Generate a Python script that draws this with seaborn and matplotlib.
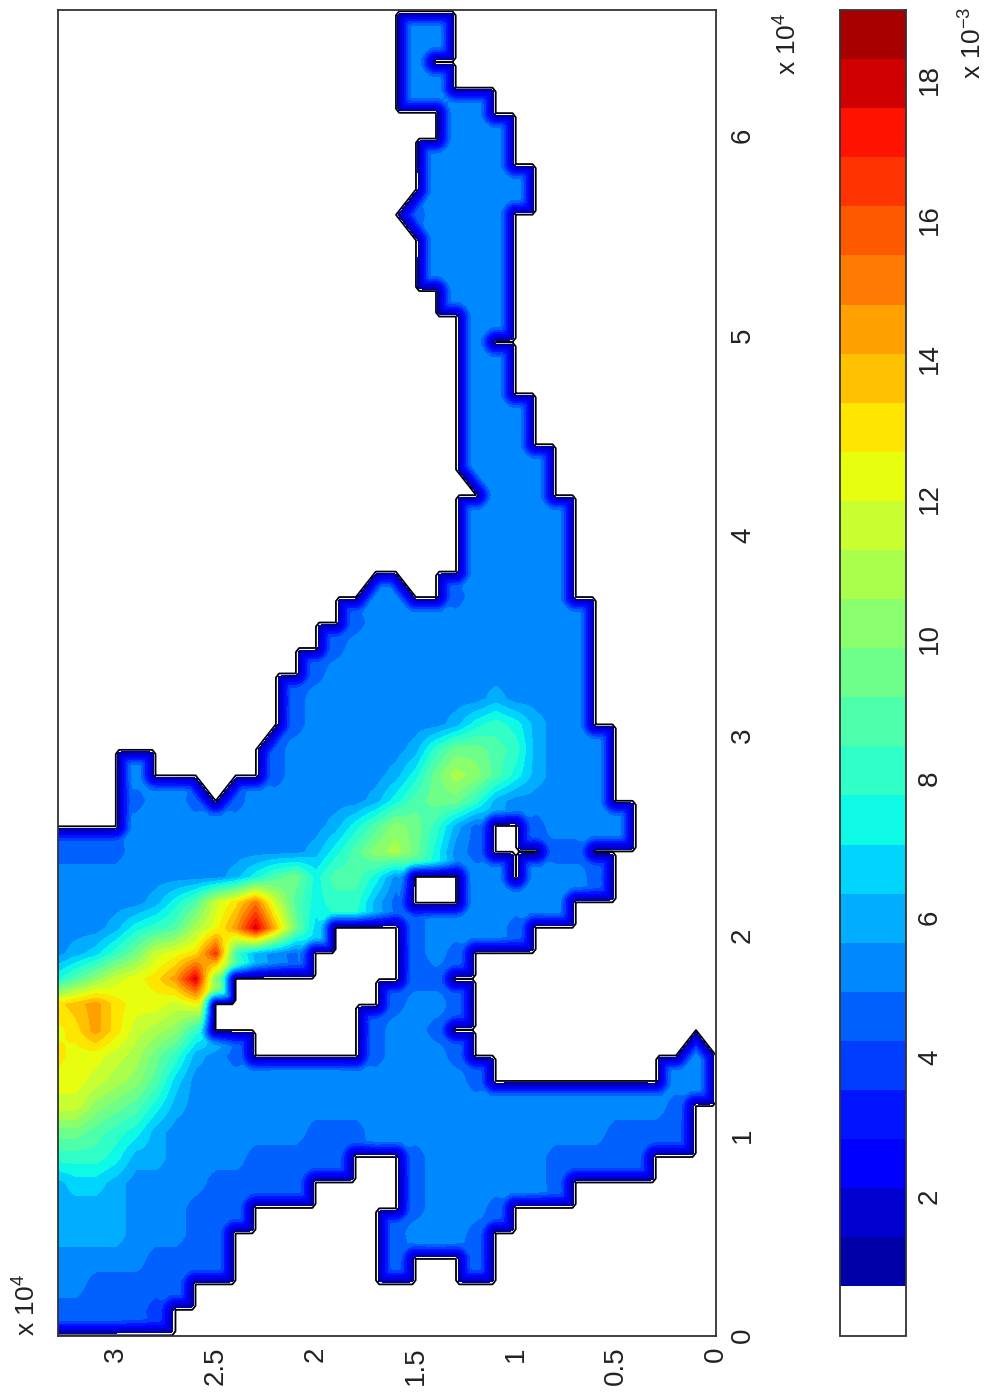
import numpy as np
import matplotlib
matplotlib.use("Agg")
import matplotlib.pyplot as plt
from matplotlib.colors import ListedColormap
import seaborn as sns

# grid nodes: staircase steps of the outline
X_STEP = 1273
Y_STEP = 1000
X_MAX = 66250
Y_MAX = 32900

# one string per x node, top of the page first, one char per y node (left of the page first)
# '.' = land (0), other chars = colour band number in base 36
FIELD_ROWS = [
    "." * 34,
    "." * 18 + "77" + "." * 14,
    "." * 18 + "7" + "." * 15,
    "." * 18 + "77" + "." * 14,
    "." * 20 + "77" + "." * 12,
    "." * 20 + "777" + "." * 11,
    "." * 19 + "7777" + "." * 11,
    "." * 19 + "77777" + "." * 10,
    "." * 18 + "67777" + "." * 11,
    "." * 19 + "7777" + "." * 11,
    "." * 19 + "7777" + "." * 11,
    "." * 20 + "777" + "." * 11,
    "." * 21 + "77" + "." * 11,
    "." * 21 + "7" + "." * 12,
    "." * 21 + "77" + "." * 11,
    "." * 21 + "77" + "." * 11,
    "." * 21 + "777" + "." * 10,
    "." * 21 + "777" + "." * 10,
    "." * 21 + "7777" + "." * 9,
    "." * 22 + "777" + "." * 9,
    "." * 21 + "77777" + "." * 8,
    "." * 21 + "77777" + "." * 8,
    "." * 21 + "77777" + "." * 8,
    "." * 16 + "77.." + "677777" + "." * 8,
    "." * 15 + "677777777777" + "." * 7,
    "." * 14 + "6777777777777" + "." * 7,
    "." * 13 + "67777777777777" + "." * 7,
    "." * 12 + "677777777787777" + "." * 7,
    "." * 12 + "677777778aba877" + "." * 7,
    "." * 11 + "67777778bddcb8777" + "." * 6,
    "....7......" + "6777778adfeca8777" + "." * 6,
    "....6776." + "67777778acddb87777" + "7" + "." * 6,
    "...." + "777777777" + "78acedb86" + ".." + "67777" + "." * 5,
    "6666777777777" + "8acefda76" + "..." + "66" + "." * 7,
    "777777777" + "8acdacca7" + "..." + "77." + "7776" + "." * 6,
    "777778acgilgcabb86" + "..." + "77777" + "." * 8,
    "7778abcfhkpjd9" + "...." + "677776" + "." * 10,
    "789bdghinb876" + "....." + "676" + "." * 13,
    "aceghikpd" + "." * 9 + "66" + "." * 14,
    "ijkihhgh" + "." * 9 + "6776" + "." * 13,
    "hikigfeb" + "." * 8 + "6776" + "." * 14,
    "ihhgfdb876" + "." * 6 + "67776" + "." * 11 + "7.",
    "hhgfec9777777777777776" + "." * 9 + "77.",
    "ggedca8" + "777777777777777" + "777777777" + "6..",
    "ddcba8" + "7777777" + "66677" + "7777777777" + "666" + "6..",
    "bbba887777" + "66666" + "..." + "677777766666" + "....",
    "8998777766666" + "....." + "67777776" + "." * 8,
    "8888777666" + "." * 8 + "67776" + "." * 11,
    "888877766" + "." * 8 + "67776" + "." * 12,
    "777776666" + "." * 8 + "6...6" + "." * 12,
    "7766666" + "." * 27,
    "666665" + "." * 28,
    "." * 34,
]

# water nodes whose land corners are cut on the diagonal, not as a step
WEDGE_NODES = [(8, 18), (18, 21), (23, 16), (23, 17), (29, 11), (31, 7), (31, 9), (41, 32)]

X_TICKS = [0, 10000, 20000, 30000, 40000, 50000, 60000]
X_LABELS = ["0", "1", "2", "3", "4", "5", "6"]
Y_TICKS = [0, 5000, 10000, 15000, 20000, 25000, 30000]
Y_LABELS = ["0", "0.5", "1", "1.5", "2", "2.5", "3"]
CBAR_TICKS = [2, 4, 6, 8, 10, 12, 14, 16, 18]

VMIN = 0.01
VMAX = 19.0
N_COLORS = 26

SUB = 6           # fine points per grid step
RIM_PX = 16       # width of the dark rim along the coast
PX_ROW = 25.46    # page pixels per grid step
PX_COL = 20.0

sns.set_theme(style="white")
plt.rcParams["font.family"] = ["Liberation Sans", "DejaVu Sans"]
plt.rcParams["mathtext.default"] = "regular"
TEXT_COL = "#222222"

band_colors = ["white"] + sns.mpl_palette("jet", N_COLORS)
cmap = ListedColormap(band_colors)
levels = np.linspace(VMIN, VMAX, len(band_colors) + 1)
step = levels[1] - levels[0]

# decode rows -> values at the middle of each band
rows = len(FIELD_ROWS)
cols = len(FIELD_ROWS[0])
Z = np.full((rows, cols), np.nan)
for i, row in enumerate(FIELD_ROWS):
    for j, ch in enumerate(row):
        if ch != ".":
            Z[i, j] = levels[int(ch, 36)] + step / 2
is_land = np.isnan(Z)

# carry the water values over the land nodes so the resampling does not fade on its own
filled = Z.copy()
for _ in range(3):
    prev = filled.copy()
    for i, j in zip(*np.where(np.isnan(prev))):
        near = prev[max(i - 1, 0):i + 2, max(j - 1, 0):j + 2]
        if np.any(~np.isnan(near)):
            filled[i, j] = np.nanmean(near)
filled = np.nan_to_num(filled)

fine_i = np.linspace(0, rows - 1, (rows - 1) * SUB + 1)
fine_j = np.linspace(0, cols - 1, (cols - 1) * SUB + 1)
F = np.array([np.interp(fine_j, np.arange(cols), filled[i]) for i in range(rows)])
F = np.array([np.interp(fine_i, np.arange(rows), F[:, j]) for j in range(len(fine_j))]).T

# land on the fine grid: full cells, coast segments, wedges
land_f = np.zeros(F.shape, dtype=bool)
for i in range(rows):
    for j in range(cols):
        if not is_land[i, j]:
            continue
        land_f[i * SUB, j * SUB] = True
        if j + 1 < cols and is_land[i, j + 1]:
            land_f[i * SUB, j * SUB:(j + 1) * SUB + 1] = True
        if i + 1 < rows and is_land[i + 1, j]:
            land_f[i * SUB:(i + 1) * SUB + 1, j * SUB] = True
for i in range(rows - 1):
    for j in range(cols - 1):
        corners = is_land[i:i + 2, j:j + 2]
        if corners.all():
            land_f[i * SUB:(i + 1) * SUB + 1, j * SUB:(j + 1) * SUB + 1] = True
        elif corners.sum() == 3:
            a, b = np.argwhere(~corners)[0]
            if (i + a, j + b) in WEDGE_NODES:
                for p in range(SUB + 1):
                    for q in range(SUB + 1):
                        if abs(p / SUB - a) + abs(q / SUB - b) >= 1:
                            land_f[i * SUB + p, j * SUB + q] = True

# distance to the coast in page pixels -> dark rim
# padded so that the land on one side of the frame does not wrap round to the other
reach_i = int(RIM_PX / (PX_ROW / SUB)) + 1
reach_j = int(RIM_PX / (PX_COL / SUB)) + 1
land_pad = np.pad(land_f, ((reach_i, reach_i), (reach_j, reach_j)))
dist = np.full(land_pad.shape, float(RIM_PX))
for di in range(-reach_i, reach_i + 1):
    for dj in range(-reach_j, reach_j + 1):
        d = np.hypot(di * PX_ROW / SUB, dj * PX_COL / SUB)
        shifted = np.roll(land_pad, (di, dj), axis=(0, 1))
        dist[shifted] = np.minimum(dist[shifted], d)
F = F * dist[reach_i:-reach_i, reach_j:-reach_j] / RIM_PX

x_nodes = X_STEP * (rows - 1 - fine_i)
y_nodes = Y_STEP * (cols - 1 - fine_j)

W, H = 1000, 1394
fig = plt.figure(figsize=(W / 100, H / 100), dpi=100)

ax = fig.add_axes([57.6 / W, (H - 1335.5) / H, (716 - 57.6) / W, (1335.5 - 10) / H])
ax.contourf(y_nodes, x_nodes, F, levels=levels, cmap=cmap)
ax.contour(y_nodes, x_nodes, F, levels=[0.05], colors="black", linewidths=1.3)
ax.set_xlim(Y_MAX, 0)
ax.set_ylim(0, X_MAX)

ax.set_xticks(Y_TICKS)
ax.set_xticklabels(Y_LABELS, rotation=90, va="top", ha="center", color=TEXT_COL, fontsize=20)
ax.yaxis.tick_right()
ax.set_yticks(X_TICKS)
ax.set_yticklabels(X_LABELS, rotation=90, va="center", ha="left", color=TEXT_COL, fontsize=20)
ax.tick_params(axis="x", length=0, pad=8)
ax.tick_params(axis="y", length=0, pad=10)
for s in ax.spines.values():
    s.set_visible(True)
    s.set_color("#333333")
    s.set_linewidth(1.3)

# colorbar, top band first
cax = fig.add_axes([839.5 / W, (H - 1335.5) / H, (906 - 839.5) / W, (1335.5 - 10) / H])
band_table = np.arange(len(band_colors))[::-1].reshape(-1, 1)
sns.heatmap(band_table, cmap=cmap, cbar=False, ax=cax, xticklabels=False, yticklabels=False)
cax.set_yticks([(VMAX - t) / step for t in CBAR_TICKS])
cax.set_yticklabels([str(t) for t in CBAR_TICKS], rotation=90, va="center", color=TEXT_COL, fontsize=20)
cax.tick_params(axis="y", left=True, right=True, labelleft=False, labelright=True,
                direction="in", length=9.4, width=1, color="black", pad=8)
for s in cax.spines.values():
    s.set_visible(True)
    s.set_color("#333333")
    s.set_linewidth(1.3)

# the "x 10^n" notes
def offset_note(text, px_x, px_y):
    fig.text(px_x / W, (H - px_y) / H, text, rotation=90, ha="center", va="bottom",
             color=TEXT_COL, fontsize=19)

offset_note("x 10$^{4}$", 27, 1336)
offset_note("x 10$^{4}$", 788, 75)
offset_note("x 10$^{-3}$", 973, 79)

fig.savefig("out.png", dpi=100)
